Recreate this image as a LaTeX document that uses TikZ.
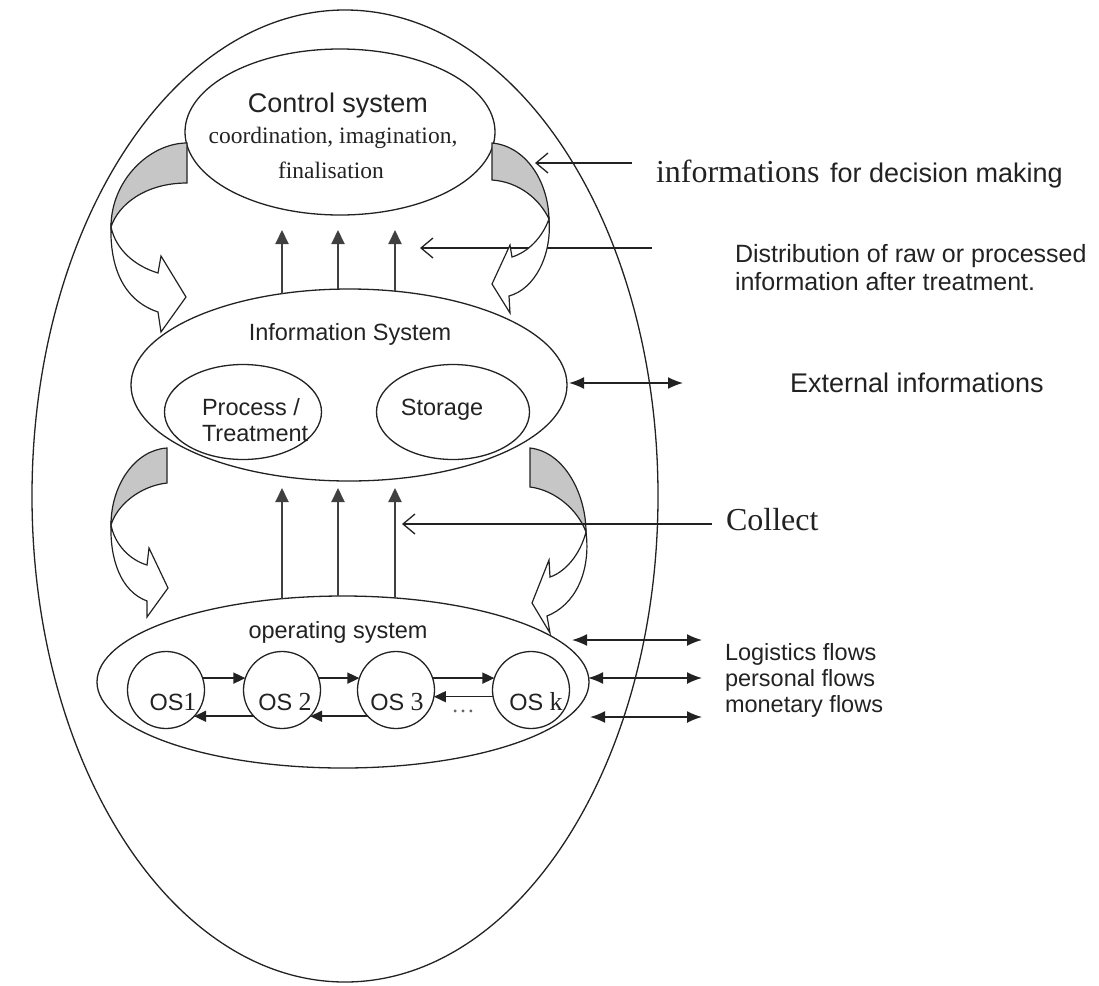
\documentclass[tikz,border=0pt]{standalone}
\usepackage{fontspec}
\setmainfont{Liberation Serif}
\setsansfont{Liberation Sans}
\usetikzlibrary{arrows.meta,shapes.geometric}
\definecolor{ribbon}{HTML}{C6C6C6}
\definecolor{ink}{HTML}{222222}
\begin{document}
\begin{tikzpicture}[x=1pt,y=-1pt,
  every node/.style={inner sep=0pt,outer sep=0pt,text=ink},
  ln/.style={line width=1.3pt,draw=ink},
  oval/.style={ln,ellipse},
  oscirc/.style={ln,circle,minimum size=77pt},
  vup/.style={line width=2pt,draw=black!75,-{Triangle[length=14pt,width=13pt]}},
  osarr/.style={line width=1.6pt,draw=ink,-{Triangle[length=12pt,width=11pt]}},
  openarr/.style={ln,-{Straight Barb[length=12pt,width=20pt]}},
  dblarr/.style={line width=1.6pt,draw=ink,{Latex[length=15pt,width=12pt]}-{Latex[length=15pt,width=12pt]}},
  rib/.style={line width=1.2pt,draw=ink,fill=ribbon},
  ribw/.style={line width=1.2pt,draw=ink,fill=white},
  sfA/.style={font=\sffamily\fontsize{27}{30}\selectfont},
  sfB/.style={font=\sffamily\fontsize{23.5}{26}\selectfont},
  rmB/.style={font=\rmfamily\fontsize{23.5}{26}\selectfont},
  sfC/.style={font=\sffamily\fontsize{25}{28}\selectfont},
  rmL/.style={font=\rmfamily\fontsize{32}{35}\selectfont}
]
\useasboundingbox (0,0) rectangle (1099,985);

% ellipses
\node[oval,minimum width=626pt,minimum height=972pt] (outer) at (345,496) {};
\node[oval,minimum width=310pt,minimum height=166pt] (ctrl) at (340,132) {};
\node[oval,minimum width=436pt,minimum height=192pt] (info) at (349,385) {};
\node[oval,minimum width=157pt,minimum height=95pt] (proc) at (243,412) {};
\node[oval,minimum width=153pt,minimum height=95pt] (stor) at (453,412) {};
\node[oval,minimum width=492pt,minimum height=172pt] (ops) at (343,682) {};

% OS circles
\node[oscirc] (os1) at (166,690) {};
\node[oscirc] (os2) at (282,690) {};
\node[oscirc] (os3) at (396,690) {};
\node[oscirc] (osk) at (531,690) {};

% texts inside
\node[sfA,anchor=base] (tctrl) at (338,112) {Control system};
\node[rmB,anchor=base] (tcoord) at (333,143) {coordination, imagination,};
\node[rmB,anchor=base] (tfinal) at (331,178) {finalisation};
\node[sfB,anchor=base] (tinfo) at (350,340) {Information System};
\node[sfB,anchor=base west] (tproc1) at (202,415) {Process /};
\node[sfB,anchor=base west] (tproc2) at (202,441) {Treatment};
\node[sfB,anchor=base] (tstor) at (442,415) {Storage};
\node[sfB,anchor=base] (tops) at (338,638) {operating system};
\node[rmB,anchor=base,font=\rmfamily\fontsize{26}{28}\selectfont] (l1) at (173,710) {{\sffamily\fontsize{23.5}{26}\selectfont OS}1};
\node[rmB,anchor=base,font=\rmfamily\fontsize{26}{28}\selectfont] (l2) at (285,710) {{\sffamily\fontsize{23.5}{26}\selectfont OS} 2};
\node[rmB,anchor=base,font=\rmfamily\fontsize{26}{28}\selectfont] (l3) at (397,710) {{\sffamily\fontsize{23.5}{26}\selectfont OS} 3};
\node[rmB,anchor=base,font=\rmfamily\fontsize{26}{28}\selectfont] (lk) at (536,710) {{\sffamily\fontsize{23.5}{26}\selectfont OS} k};
\node[rmB,anchor=base,text=black!60] (dots) at (463,712) {\dots};

% OS arrows
\draw[osarr] (os1.18) -- (os2.162);
\draw[osarr] (os2.18) -- (os3.162);
\draw[osarr] (os3.18) -- (osk.162);
\draw[osarr] (osk.190) -- (os3.350);
\draw[osarr] (os2.223) -- (os1.317);
\draw[osarr] (os3.223) -- (os2.317);

% vertical arrows
\coordinate (ua1) at (282,294); \coordinate (ub1) at (282,230);
\coordinate (ua2) at (338,289); \coordinate (ub2) at (338,230);
\coordinate (ua3) at (395,291); \coordinate (ub3) at (395,230);
\coordinate (la1) at (282,599); \coordinate (lb1) at (282,488);
\coordinate (la2) at (338,596); \coordinate (lb2) at (338,488);
\coordinate (la3) at (395,598); \coordinate (lb3) at (395,488);
\foreach \i in {1,2,3} {
  \draw[vup] (ua\i) -- (ub\i);
  \draw[vup] (la\i) -- (lb\i);
}

% right-side arrows (behind the ribbons)
\coordinate (d0) at (652,248); \coordinate (d1) at (420,248);
\draw[openarr] (d0) -- (d1);
\coordinate (e0) at (569,383); \coordinate (e1) at (683,383);
\draw[dblarr] (e0) -- (e1);
\coordinate (f0a) at (572,640); \coordinate (f1a) at (702,640);
\coordinate (f0b) at (588,678); \coordinate (f1b) at (702,678);
\coordinate (f0c) at (590,717); \coordinate (f1c) at (702,717);
\draw[dblarr] (f0a) -- (f1a);
\draw[dblarr] (f0b) -- (f1b);
\draw[dblarr] (f0c) -- (f1c);

% ribbon arrows
% top-left
\draw[rib] (187,143) .. controls (150,143) and (111,180) .. (111,227)
  .. controls (118,205) and (145,183) .. (187,183) -- cycle;
\draw[ribw] (111,227) .. controls (116,250) and (135,266) .. (158,273)
  -- (161,256) -- (186,297) -- (161,332) -- (158,312)
  .. controls (122,300) and (110,265) .. (111,227) -- cycle;
% top-right
\draw[rib] (492,143) .. controls (525,146) and (548,180) .. (549,219)
  .. controls (540,200) and (520,182) .. (492,180) -- cycle;
\draw[ribw] (549,219) .. controls (542,238) and (528,252) .. (512,257)
  -- (510,245) -- (492,284) -- (510,313) -- (509,296)
  .. controls (535,289) and (552,255) .. (549,219) -- cycle;
% bottom-left
\draw[rib] (167,448) .. controls (135,450) and (111,485) .. (111,525)
  .. controls (117,505) and (140,486) .. (167,483) -- cycle;
\draw[ribw] (111,525) .. controls (115,545) and (130,560) .. (147,565)
  -- (149,548) -- (168,588) -- (147,617) -- (147,601)
  .. controls (120,591) and (110,558) .. (111,525) -- cycle;
% bottom-right
\draw[rib] (530,448) .. controls (565,452) and (586,495) .. (586,532)
  .. controls (578,510) and (555,490) .. (530,487) -- cycle;
\draw[ribw] (586,532) .. controls (580,555) and (565,572) .. (550,577)
  -- (549,560) -- (532,603) -- (550,633) -- (547,616)
  .. controls (575,605) and (591,572) .. (586,532) -- cycle;

% arrows drawn over ribbons
\coordinate (i0) at (632,163); \coordinate (i1) at (535,163);
\draw[openarr] (i0) -- (i1);
\coordinate (c0) at (712,524); \coordinate (c1) at (402,524);
\draw[openarr] (c0) -- (c1);

% right texts
\node[anchor=base west,rmL] (tinf) at (656,182) {informations};
\node[anchor=base west,sfA] (tdec) at (830,182) {for decision making};
\node[anchor=base west,sfC] (tdist1) at (735,262) {Distribution of raw or processed};
\node[anchor=base west,sfC] (tdist2) at (735,290) {information after treatment.};
\node[anchor=base west,sfA] (text) at (790,392) {External informations};
\node[anchor=base west,rmL] (tcol) at (726,530) {Collect};
\node[anchor=base west,sfB] (tfl1) at (725,660) {Logistics flows};
\node[anchor=base west,sfB] (tfl2) at (725,686) {personal flows};
\node[anchor=base west,sfB] (tfl3) at (725,712) {monetary flows};
\end{tikzpicture}
\end{document}
